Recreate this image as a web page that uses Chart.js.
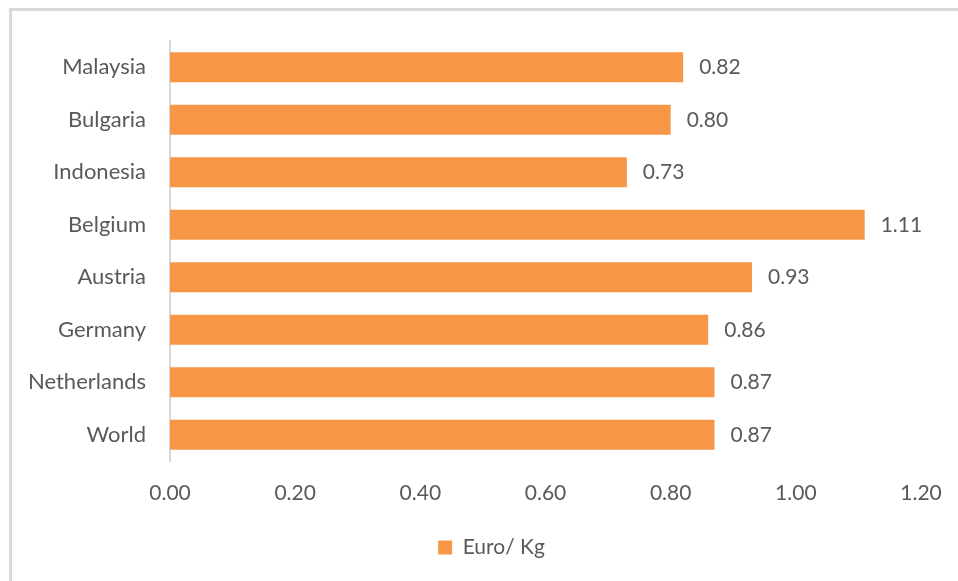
<!DOCTYPE html>
<html>
<head>
<meta charset="utf-8">
<script src="https://cdn.jsdelivr.net/npm/chart.js@4"></script>
<style>
  html, body { margin: 0; padding: 0; background: #fff; }
  #wrap { position: relative; width: 958px; height: 581px; overflow: hidden; }
  #frame { position: absolute; left: 9px; top: 8px; width: 960px; height: 600px;
           border-top: 3px solid #d9d9d9; border-left: 3px solid #d9d9d9; }
  canvas { position: absolute; left: 0; top: 0; }
</style>
</head>
<body>
<div id="wrap">
  <div id="frame"></div>
  <canvas id="chart" width="958" height="581"></canvas>
</div>
<script>
const countries = ['Malaysia', 'Bulgaria', 'Indonesia', 'Belgium', 'Austria', 'Germany', 'Netherlands', 'World'];
const euroPerKg = [0.82, 0.80, 0.73, 1.11, 0.93, 0.86, 0.87, 0.87];
const seriesName = 'Euro/ Kg';

const FONT = "Lato, 'Open Sans', sans-serif";
const TEXT = '#595959';

// value labels to the right of each bar
const barLabels = {
  id: 'barLabels',
  afterDatasetsDraw(chart) {
    const ctx = chart.ctx;
    const meta = chart.getDatasetMeta(0);
    ctx.save();
    ctx.font = '21px ' + FONT;
    ctx.fillStyle = TEXT;
    ctx.textAlign = 'left';
    ctx.textBaseline = 'middle';
    meta.data.forEach((bar, i) => {
      ctx.fillText(euroPerKg[i].toFixed(2), bar.x + 16, bar.y);
    });
    ctx.restore();
  }
};

// nudge the legend to the right, like the original
const legendShift = {
  id: 'legendShift',
  afterLayout(chart) {
    chart.legend.left += 31;
    chart.legend.right += 31;
  }
};

new Chart(document.getElementById('chart'), {
  type: 'bar',
  data: {
    labels: countries,
    datasets: [{
      label: seriesName,
      data: euroPerKg,
      backgroundColor: '#F79646',
      categoryPercentage: 1,
      barPercentage: 0.57
    }]
  },
  options: {
    indexAxis: 'y',
    responsive: false,
    animation: false,
    layout: { padding: { top: 41, right: 37, bottom: 13, left: 0 } },
    plugins: {
      tooltip: { enabled: false },
      legend: {
        position: 'bottom',
        labels: {
          color: TEXT,
          font: { family: FONT, size: 21 },
          boxWidth: 14,
          boxHeight: 14,
          padding: 10
        }
      }
    },
    scales: {
      x: {
        min: 0,
        max: 1.2,
        ticks: {
          stepSize: 0.2,
          color: TEXT,
          font: { family: FONT, size: 21 },
          padding: 20,
          callback: v => v.toFixed(2)
        },
        grid: { display: false, drawTicks: false },
        border: { display: false },
        afterFit: s => { s.height = 66; s.paddingRight = 0; s.paddingLeft = 0; }
      },
      y: {
        ticks: {
          color: TEXT,
          font: { family: FONT, size: 22 },
          padding: 24
        },
        grid: { display: false, drawTicks: false },
        border: { display: true, color: '#d9d9d9', width: 2 },
        afterFit: s => { s.width = 170; }
      }
    }
  },
  plugins: [barLabels, legendShift]
});
</script>
</body>
</html>
